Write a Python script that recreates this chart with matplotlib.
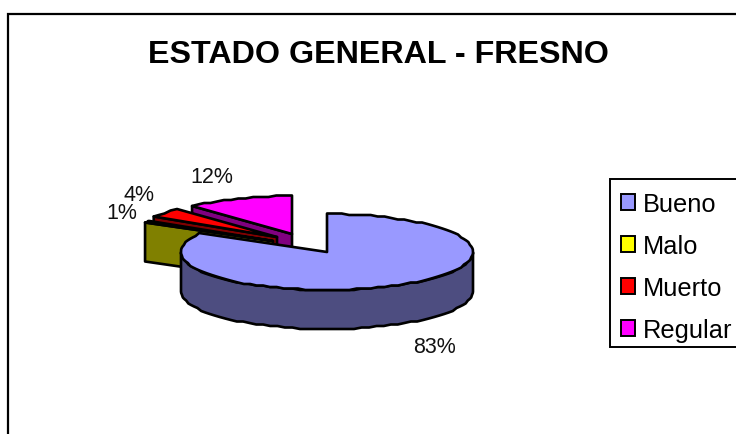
import numpy as np
import matplotlib
matplotlib.use('Agg')
import matplotlib.pyplot as plt
from matplotlib.patches import Patch, Rectangle

categories = ['Bueno', 'Malo', 'Muerto', 'Regular']
values = [83, 1, 4, 12]
pct_labels = ['83%', '1%', '4%', '12%']

top_colors = ['#9999FF', '#FFFF00', '#FF0000', '#FF00FF']
side_colors = ['#4D4D80', '#808000', '#800000', '#800080']

# pie geometry, in pixels of the 736x435 picture
CX, CY = 327, 253
RX, RY = 146, 38
DEPTH = 39
offsets = [(0, 0), (-54, -11), (-50, -15), (-35, -18)]
label_pos = [(434, 348), (122, 214), (139, 196), (212, 178)]
EDGE = 1.9
STAIR = 1.5  # the outline of the original is slightly stepped, not smooth

plt.rcParams['font.family'] = ['Liberation Sans', 'DejaVu Sans']


def rim(cx, cy, t):
    x = cx + RX * np.sin(t)
    y = cy - RY * np.cos(t)
    return x, np.round(y / STAIR) * STAIR


def draw_slice(ax, start, end, offset, top_color, side_color):
    cx, cy = CX + offset[0], CY + offset[1]

    # cut face along the starting edge
    x0, y0 = rim(cx, cy, start)
    ax.fill([cx, x0, x0, cx], [cy, y0, y0 + DEPTH, cy + DEPTH],
            facecolor=side_color, edgecolor='black', lw=EDGE, joinstyle='round')

    # outer wall, only the front half of the ellipse shows
    lo, hi = max(start, np.pi / 2), min(end, 3 * np.pi / 2)
    if hi > lo:
        t = np.linspace(lo, hi, 60)
        x, y = rim(cx, cy, t)
        ax.fill(np.r_[x, x[::-1]], np.r_[y, y[::-1] + DEPTH],
                facecolor=side_color, edgecolor='black', lw=EDGE, joinstyle='round')

    t = np.linspace(start, end, max(4, int((end - start) * 20)))
    x, y = rim(cx, cy, t)
    ax.fill(np.r_[cx, x], np.r_[cy, y],
            facecolor=top_color, edgecolor='black', lw=EDGE, joinstyle='round')


fig = plt.figure(figsize=(7.36, 4.35), dpi=100)
ax = fig.add_axes([0, 0, 1, 1])
ax.set_xlim(0, 736)
ax.set_ylim(435, 0)
ax.axis('off')

# chart frame runs off the right and bottom of the picture
ax.add_patch(Rectangle((7.5, 14.5), 760, 450, facecolor='white', edgecolor='black', lw=1.6))

fractions = np.array(values) / sum(values)
ends = np.cumsum(fractions) * 2 * np.pi
starts = np.r_[0, ends[:-1]]

# back slices first so the big one covers them
for i in [3, 2, 1, 0]:
    draw_slice(ax, starts[i], ends[i], offsets[i], top_colors[i], side_colors[i])

for lab, pos in zip(pct_labels, label_pos):
    ax.text(pos[0], pos[1], lab, fontsize=15.5, ha='center', va='center', color='#111111')

ax.text(378, 55, 'ESTADO GENERAL - FRESNO', fontsize=23.2, fontweight='bold',
        ha='center', va='center')

# legend box is drawn apart, its rows sit a bit low in the frame
ax.add_patch(Rectangle((610, 180), 140, 168, facecolor='white', edgecolor='black', lw=1.4))
handles = [Patch(facecolor=c, edgecolor='black', lw=1.4) for c in top_colors]
ax.legend(handles, categories, loc='upper left', bbox_to_anchor=(610, 182),
          bbox_transform=ax.transData, borderaxespad=0, fontsize=18.3,
          frameon=False, handlelength=0.58, handleheight=0.58, handletextpad=0.3,
          labelspacing=0.71, borderpad=0.42)

fig.savefig('out.png', dpi=100)
